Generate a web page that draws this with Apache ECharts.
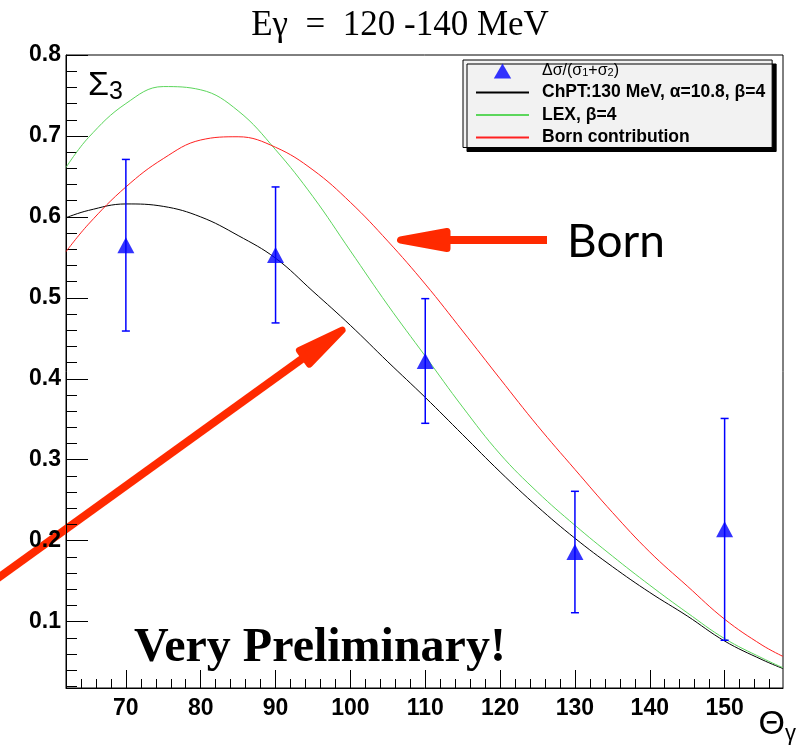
<!DOCTYPE html>
<html>
<head>
<meta charset="utf-8">
<script src="https://cdn.jsdelivr.net/npm/echarts@6/dist/echarts.min.js"></script>
<style>
  html, body { margin: 0; padding: 0; background: #fff; }
  #chart { width: 800px; height: 749px; }
</style>
</head>
<body>
<div id="chart"></div>
<script>
// measured points: Sigma3 vs photon angle
var thetaPoints = [70, 90, 110, 130, 150];
var sigma3Values = [0.565, 0.553, 0.422, 0.186, 0.214];
var sigma3Errors = [0.106, 0.084, 0.077, 0.075, 0.137];

// theory curves
var thetaCurve = [62, 65, 70, 75, 80, 85, 90, 95, 100, 105, 110, 115, 120, 125, 130, 135, 140, 145, 150, 155, 157.8];
var chptCurve = [0.599, 0.608, 0.616, 0.613, 0.600, 0.577, 0.549, 0.508, 0.466, 0.421, 0.377, 0.331, 0.285, 0.242, 0.203, 0.168, 0.136, 0.107, 0.076, 0.053, 0.042];
var lexCurve = [0.661, 0.698, 0.740, 0.761, 0.757, 0.731, 0.683, 0.625, 0.558, 0.491, 0.428, 0.365, 0.307, 0.260, 0.219, 0.181, 0.145, 0.111, 0.079, 0.055, 0.043];
var bornCurve = [0.557, 0.591, 0.637, 0.672, 0.695, 0.699, 0.686, 0.658, 0.618, 0.570, 0.517, 0.459, 0.400, 0.342, 0.288, 0.235, 0.186, 0.144, 0.103, 0.071, 0.057];

// axis ticks
var xTickLabels = [70, 80, 90, 100, 110, 120, 130, 140, 150];
var yTickLabels = [0.1, 0.2, 0.3, 0.4, 0.5, 0.6, 0.7, 0.8];

var NAME_MEAS = 'Δσ/(σ1+σ2)';
var NAME_CHPT = 'ChPT:130 MeV, α=10.8, β=4';
var NAME_LEX = 'LEX, β=4';
var NAME_BORN = 'Born contribution';

var RED = '#ff2a00';

// minor ticks (every 2 deg / every 0.02)
var xMinor = [];
for (var i = 64; i <= 156; i += 2) {
    if (i % 10 !== 0) xMinor.push(i);
}
var yMinor = [];
for (var k = 1; k <= 39; k++) {
    if (k % 5 !== 0) yMinor.push(+(k * 0.02).toFixed(2));
}

var pairs = function (xs, ys) {
    var out = [];
    for (var j = 0; j < xs.length; j++) out.push([xs[j], ys[j]]);
    return out;
};

var errData = [];
for (var m = 0; m < thetaPoints.length; m++) {
    errData.push([thetaPoints[m], sigma3Values[m] - sigma3Errors[m], sigma3Values[m] + sigma3Errors[m]]);
}

// red annotation arrow: tail -> tip
var arrow = function (x1, y1, x2, y2, headLen, headHalf) {
    var dx = x2 - x1, dy = y2 - y1;
    var len = Math.sqrt(dx * dx + dy * dy);
    var ux = dx / len, uy = dy / len, nx = -uy, ny = ux;
    var tx = x2 - ux * 3.5, ty = y2 - uy * 3.5;
    var bx = x2 - ux * headLen, by = y2 - uy * headLen;
    return [{
        type: 'polyline',
        shape: { points: [[x1, y1], [bx + ux * 8, by + uy * 8]] },
        style: { stroke: RED, lineWidth: 8, fill: null }
    }, {
        type: 'polygon',
        shape: { points: [[tx, ty], [bx + nx * headHalf, by + ny * headHalf], [bx - nx * headHalf, by - ny * headHalf]] },
        style: { fill: RED, stroke: RED, lineWidth: 7, lineJoin: 'round' }
    }];
};

var labelFont = {
    fontFamily: 'Liberation Sans',
    fontWeight: 'bold',
    fontSize: 23,
    color: '#000'
};

var hideDot = { opacity: 0 };

var chart = echarts.init(document.getElementById('chart'));

var option = {
    backgroundColor: '#fff',
    animation: false,
    title: {
        text: 'Eγ  =  120 -140 MeV',
        left: 'center',
        top: 3,
        textStyle: {
            fontFamily: 'Liberation Serif',
            fontWeight: 'normal',
            fontSize: 35,
            color: '#000'
        }
    },
    grid: {
        left: 66, right: 17, top: 55, bottom: 61,
        show: true,
        borderColor: '#000',
        borderWidth: 1,
        backgroundColor: 'transparent'
    },
    legend: {
        orient: 'vertical',
        left: 463,
        top: 60,
        selectedMode: false,
        itemWidth: 53,
        itemHeight: 15,
        itemGap: 4.5,
        padding: [3, 7, 1, 12],
        backgroundColor: '#f2f2f2',
        borderColor: '#000',
        borderWidth: 1,
        shadowColor: '#000',
        shadowBlur: 0,
        shadowOffsetX: 4,
        shadowOffsetY: 4,
        textStyle: {
            fontFamily: 'Liberation Sans',
            fontWeight: 'bold',
            fontSize: 17.5,
            lineHeight: 15,
            color: '#000',
            padding: [0, 0, 0, 8],
            rich: {
                n: { fontFamily: 'Liberation Sans', fontWeight: 'normal', fontSize: 16, lineHeight: 15 },
                s: { fontFamily: 'Liberation Sans', fontWeight: 'normal', fontSize: 11, lineHeight: 4, verticalAlign: 'bottom' }
            }
        },
        formatter: function (name) {
            if (name === NAME_MEAS) {
                return '{n|Δσ/(σ}{s|1}{n|+σ}{s|2}{n|)}';
            }
            return name;
        },
        data: [
            { name: NAME_MEAS, icon: 'path://M0,10L5.8,0L11.6,10Z' },
            { name: NAME_CHPT, itemStyle: hideDot },
            { name: NAME_LEX, itemStyle: hideDot },
            { name: NAME_BORN, itemStyle: hideDot }
        ]
    },
    xAxis: [{
        type: 'value',
        min: 62,
        max: 157.8,
        position: 'bottom',
        name: '{a|Θ}{b|γ}',
        nameLocation: 'end',
        nameGap: 13,
        nameTextStyle: {
            align: 'right',
            verticalAlign: 'top',
            padding: [17, 0, 0, 0],
            rich: {
                a: { fontFamily: 'Liberation Sans', fontSize: 34, lineHeight: 40, color: '#000' },
                b: { fontFamily: 'Liberation Sans', fontSize: 22, lineHeight: 14, verticalAlign: 'bottom', color: '#000' }
            }
        },
        axisLine: { show: true, lineStyle: { color: '#000', width: 1 } },
        axisTick: { show: true, inside: true, length: 18, customValues: xTickLabels, lineStyle: { color: '#000' } },
        axisLabel: Object.assign({ customValues: xTickLabels, margin: 9 }, labelFont),
        splitLine: { show: false }
    }, {
        type: 'value',
        min: 62,
        max: 157.8,
        position: 'bottom',
        axisLine: { show: false },
        axisTick: { show: true, inside: true, length: 9, customValues: xMinor, lineStyle: { color: '#000' } },
        axisLabel: { show: false },
        splitLine: { show: false }
    }],
    yAxis: [{
        type: 'value',
        min: 0.018,
        max: 0.8,
        position: 'left',
        name: '{a|Σ}{b|3}',
        nameLocation: 'end',
        nameGap: -12,
        nameTextStyle: {
            align: 'left',
            verticalAlign: 'top',
            padding: [0, 0, 0, 22],
            rich: {
                a: { fontFamily: 'Liberation Sans', fontSize: 34, lineHeight: 38, color: '#000' },
                b: { fontFamily: 'Liberation Sans', fontSize: 25, lineHeight: 14, verticalAlign: 'bottom', color: '#000' }
            }
        },
        axisLine: { show: true, lineStyle: { color: '#000', width: 1 } },
        axisTick: { show: true, inside: true, length: 22, customValues: yTickLabels, lineStyle: { color: '#000' } },
        axisLabel: Object.assign({
            customValues: yTickLabels,
            margin: 5,
            formatter: function (v) { return v.toFixed(1); }
        }, labelFont),
        splitLine: { show: false }
    }, {
        type: 'value',
        min: 0.018,
        max: 0.8,
        position: 'left',
        axisLine: { show: false },
        axisTick: { show: true, inside: true, length: 11, customValues: yMinor, lineStyle: { color: '#000' } },
        axisLabel: { show: false },
        splitLine: { show: false }
    }],
    series: [{
        name: NAME_CHPT,
        type: 'line',
        data: pairs(thetaCurve, chptCurve),
        smooth: 0.4,
        symbol: 'none',
        lineStyle: { color: '#000', width: 1 },
        itemStyle: { color: '#000' },
        z: 2
    }, {
        name: NAME_LEX,
        type: 'line',
        data: pairs(thetaCurve, lexCurve),
        smooth: 0.4,
        symbol: 'none',
        lineStyle: { color: '#5cd65c', width: 1 },
        itemStyle: { color: '#5cd65c' },
        z: 2
    }, {
        name: NAME_BORN,
        type: 'line',
        data: pairs(thetaCurve, bornCurve),
        smooth: 0.4,
        symbol: 'none',
        lineStyle: { color: '#ff2020', width: 1 },
        itemStyle: { color: '#ff2020' },
        z: 2
    }, {
        name: 'errors',
        type: 'custom',
        data: errData,
        encode: { x: 0, y: [1, 2] },
        renderItem: function (params, api) {
            var x = api.value(0);
            var pLo = api.coord([x, api.value(1)]);
            var pHi = api.coord([x, api.value(2)]);
            var cap = 4;
            var st = { stroke: '#0000ff', lineWidth: 1.5 };
            return {
                type: 'group',
                children: [
                    { type: 'line', shape: { x1: pLo[0], y1: pLo[1], x2: pHi[0], y2: pHi[1] }, style: st },
                    { type: 'line', shape: { x1: pLo[0] - cap, y1: pLo[1], x2: pLo[0] + cap, y2: pLo[1] }, style: st },
                    { type: 'line', shape: { x1: pHi[0] - cap, y1: pHi[1], x2: pHi[0] + cap, y2: pHi[1] }, style: st }
                ]
            };
        },
        z: 3
    }, {
        name: NAME_MEAS,
        type: 'scatter',
        data: pairs(thetaPoints, sigma3Values),
        symbol: 'triangle',
        symbolSize: [17, 16],
        itemStyle: { color: '#0000ff' },
        z: 4
    }],
    graphic: [].concat(
        arrow(547, 240, 397, 240, 50, 8.5),
        arrow(-6, 581, 345, 328, 50, 8.5),
        [{
            type: 'text',
            x: 567, y: 242,
            style: { text: 'Born', fontFamily: 'Lato', fontSize: 46, fill: '#000', verticalAlign: 'middle' }
        }, {
            type: 'text',
            x: 134, y: 649,
            style: { text: 'Very Preliminary!', fontFamily: 'Liberation Serif', fontWeight: 'bold', fontSize: 48, fill: '#000', verticalAlign: 'middle' }
        }]
    )
};

chart.setOption(option);
</script>
</body>
</html>
